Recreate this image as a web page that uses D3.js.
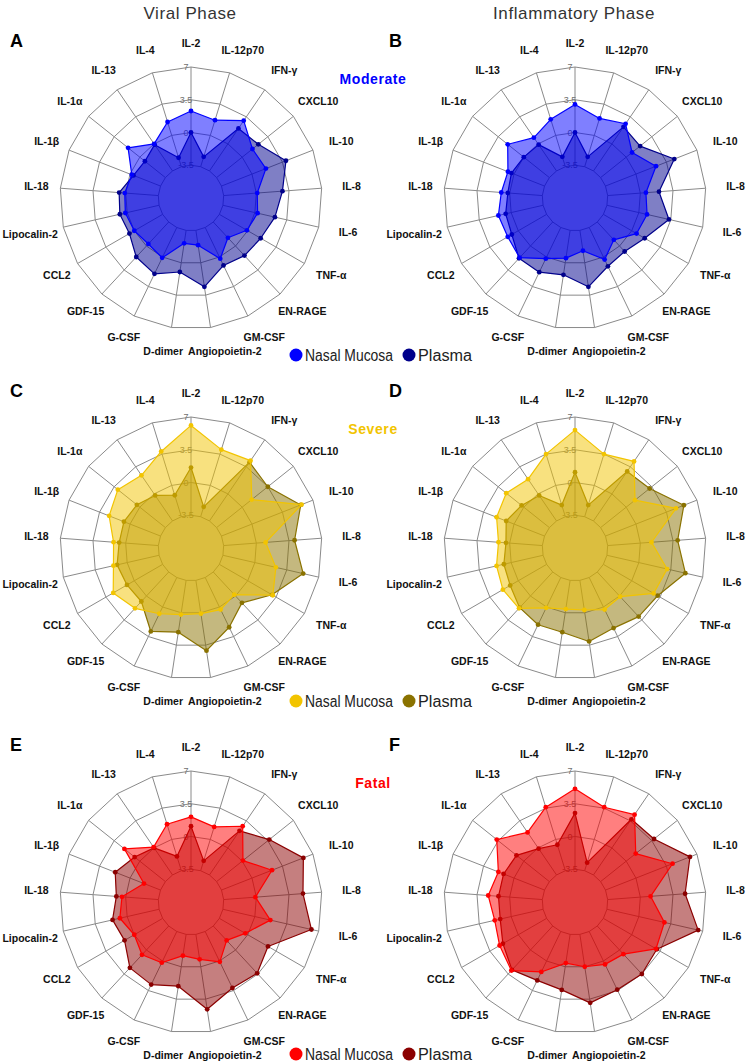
<!DOCTYPE html>
<html><head><meta charset="utf-8">
<script src="https://cdn.jsdelivr.net/npm/d3@7"></script>
<style>body{margin:0;background:#fff}svg{display:block}</style>
</head><body>
<svg id="c" width="746" height="1064"></svg>
<script>
const axes = ["IL-2","IL-12p70","IFN-γ","CXCL10","IL-10","IL-8","IL-6","TNF-α","EN-RAGE","GM-CSF","Angiopoietin-2","D-dimer","G-CSF","GDF-15","CCL2","Lipocalin-2","IL-18","IL-1β","IL-1α","IL-13","IL-4"];
const ticks = [-3.5, 0, 3.5, 7];
const phases = ["Viral Phase", "Inflammatory Phase"];
const severities = ["Moderate", "Severe", "Fatal"];
const panelLetters = ["A","B","C","D","E","F"];
const seriesNames = ["Nasal Mucosa", "Plasma"];

const modViralNasal  = [2.3, 1.7, 3.0, 1.4, 1.6, 0.1, 0.3, -0.1, -1.2, 0.2, -1.9, -2.1, 0.1, -0.3, 0.0, 0.2, 0.1, -0.2, 1.6, 0.0, 1.5];
const modViralPlasma = [0.0, -2.4, 2.0, 2.2, 3.9, 2.8, 2.2, 1.6, 1.4, 1.0, 2.6, 1.0, 2.0, 1.6, 0.6, 0.8, 0.7, -0.4, -0.7, -0.1, -2.5];
const modInflNasal   = [3.0, 1.9, 2.6, 0.8, 2.3, 0.6, 0.9, 0.6, -0.9, 0.3, -1.3, -0.5, 0.2, 1.7, 1.3, 1.4, 0.9, 0.7, 2.2, 0.8, 1.8];
const modInflPlasma  = [0.0, -2.4, 2.2, 1.9, 4.4, 2.0, 3.3, 1.6, 0.8, 1.1, 2.6, 1.3, 1.8, 1.8, 0.8, 0.6, 0.2, 0.3, 0.0, -0.1, -2.4];
const sevViralNasal  = [6.1, 4.0, 4.3, 1.3, 5.7, 1.0, 2.3, 3.1, -0.2, 0.3, 0.1, 0.2, 0.8, 1.8, 2.6, 1.5, 1.3, 2.4, 3.0, 2.4, 3.8];
const sevViralPlasma = [1.6, -2.4, 4.1, 3.5, 5.6, 4.1, 5.3, 3.0, 1.0, 2.4, 4.1, 2.1, 2.9, 0.8, 0.9, 1.1, 0.7, 0.7, 0.4, -0.2, -1.1];
const sevInflNasal   = [5.6, 3.5, 4.2, 1.2, 4.6, 1.2, 3.1, 2.7, 0.1, 0.3, -0.3, -0.4, 0.1, 1.8, 1.9, 1.6, 1.2, 2.0, 2.4, 1.9, 3.5];
const sevInflPlasma  = [1.1, -2.2, 2.9, 3.2, 5.5, 4.0, 5.1, 3.2, 3.0, 2.5, 3.1, 2.1, 2.1, 1.7, 1.0, 0.8, 0.4, 0.9, 0.3, -0.2, -2.2];
const fatViralNasal  = [2.1, 1.4, 2.8, 0.1, 2.3, -0.1, 1.7, -0.3, -1.4, 0.1, -0.8, -1.2, 0.2, 0.7, 0.0, 0.8, 0.4, -1.6, 2.1, 0.1, 1.7];
const fatViralPlasma = [1.1, -2.4, 2.2, 3.7, 5.9, 5.0, 6.2, 2.5, 3.4, 3.2, 4.6, 2.1, 2.8, 2.6, 1.2, 1.6, 1.0, 1.7, 0.7, 0.0, -1.9];
const fatInflNasal   = [5.1, 3.6, 4.3, 1.3, 4.2, 1.1, 2.8, 3.0, 0.6, 0.4, 0.0, -0.4, 1.3, 3.0, 2.3, 1.8, 2.3, 1.8, 3.7, 2.0, 3.6];
const fatInflPlasma  = [2.5, -2.6, 3.7, 3.8, 6.2, 4.8, 6.5, 3.1, 3.5, 3.4, 3.9, 2.5, 2.3, 2.9, 1.9, 1.2, 1.2, 1.2, 1.0, -0.1, -0.6];

const nasalColors  = ["#0000ff", "#f2c400", "#ff0000"];
const plasmaColors = ["#00008b", "#8a7200", "#8b0000"];

const panels = [
  {row:0, col:0, nasal:modViralNasal, plasma:modViralPlasma},
  {row:0, col:1, nasal:modInflNasal,  plasma:modInflPlasma},
  {row:1, col:0, nasal:sevViralNasal, plasma:sevViralPlasma},
  {row:1, col:1, nasal:sevInflNasal,  plasma:sevInflPlasma},
  {row:2, col:0, nasal:fatViralNasal, plasma:fatViralPlasma},
  {row:2, col:1, nasal:fatInflNasal,  plasma:fatInflPlasma}
];

const svg = d3.select("#c");
const colX = [191, 575];
const rowY = [198, 548, 902];
const legendY = [355, 701, 1054];
const R = 131;
const r = d3.scaleLinear().domain([-7, 7]).range([0, R]);
const ang = d3.scaleLinear().domain([0, axes.length]).range([0, 2 * Math.PI]);
const FONT = "'Liberation Sans', Arial, sans-serif";

svg.selectAll("text.phase").data(phases).join("text")
  .attr("class","phase")
  .attr("x", (d,i) => colX[i] - 1)
  .attr("y", 19)
  .attr("text-anchor","middle")
  .attr("font-family", FONT).attr("font-size", 17).attr("letter-spacing", 0.6)
  .attr("fill","#333").text(d => d);

const ringLine = d3.lineRadial().angle((d,i) => ang(i)).radius(d => d).curve(d3.curveLinearClosed);
const dataLine = d3.lineRadial().angle((d,i) => ang(i)).radius(d => r(d)).curve(d3.curveLinearClosed);
const clamp = (v, lo, hi) => Math.max(lo, Math.min(hi, v));

panels.forEach((p, pi) => {
  const cx = colX[p.col], cy = rowY[p.row];
  const g = svg.append("g").attr("transform", `translate(${cx},${cy})`);
  ticks.forEach(t => {
    g.append("path").attr("d", ringLine(axes.map(() => r(t))))
      .attr("fill","none").attr("stroke","#8a8a8a").attr("stroke-width",1);
  });
  g.selectAll("line.spoke").data(axes).join("line")
    .attr("x1",(d,i)=> r(-3.5)*Math.sin(ang(i))).attr("y1",(d,i)=> -r(-3.5)*Math.cos(ang(i)))
    .attr("x2",(d,i)=> r(7)*Math.sin(ang(i))).attr("y2",(d,i)=> -r(7)*Math.cos(ang(i)))
    .attr("stroke","#8a8a8a").attr("stroke-width",1);
  g.selectAll("text.tick").data(ticks).join("text")
    .attr("x", -5).attr("y", d => -r(d)).attr("dy","0.35em")
    .attr("text-anchor","middle").attr("font-family",FONT).attr("font-size",9)
    .attr("fill","#707070").text(d => String(d));
  const series = [
    {vals:p.plasma, color:plasmaColors[p.row]},
    {vals:p.nasal, color:nasalColors[p.row]}
  ];
  series.forEach(s => {
    g.append("path").attr("d", dataLine(s.vals))
      .attr("fill", s.color).attr("fill-opacity",0.5)
      .attr("stroke", s.color).attr("stroke-width",1.2).attr("stroke-linejoin","round");
    g.selectAll(null).data(s.vals).join("circle")
      .attr("cx",(d,i)=> r(d)*Math.sin(ang(i))).attr("cy",(d,i)=> -r(d)*Math.cos(ang(i)))
      .attr("r",2.4).attr("fill", s.color);
  });
  const labels = g.selectAll("text.lab").data(axes).join("text")
    .attr("class","lab")
    .attr("text-anchor","middle").attr("dy","0.35em")
    .attr("font-family",FONT).attr("font-size",10.5).attr("font-weight","bold")
    .attr("fill","#111").text(d => d);
  const boxes = [];
  const h = 10, Rl = 155, minD = R + 5;
  labels.each(function(d,i){
    const w = this.getComputedTextLength();
    const a = ang(i), s = Math.sin(a), c = Math.cos(a);
    const b = {x: Rl*s + (s > 0.01 ? 6 : 0), y: -Rl*c, w};
    for (let k = 0; k < 60; k++) {
      const nx = clamp(0, b.x - w/2, b.x + w/2), ny = clamp(0, b.y - h/2, b.y + h/2);
      if (Math.hypot(nx, ny) >= minD) break;
      b.x += s; b.y -= c;
    }
    boxes[i] = b;
  });
  const b10 = boxes[10], b11 = boxes[11];
  const overlap = (b11.x + b11.w/2 + 5) - (b10.x - b10.w/2);
  if (overlap > 0) { b11.x -= overlap/2; b10.x += overlap/2; }
  labels.attr("x",(d,i)=>boxes[i].x).attr("y",(d,i)=>boxes[i].y);

  svg.append("text").attr("x", p.col === 0 ? 10 : 389).attr("y", cy - 157).attr("dy","0.35em")
    .attr("font-family",FONT).attr("font-size",18).attr("font-weight","bold")
    .attr("fill","#000").text(panelLetters[pi]);
});

severities.forEach((sv, ri) => {
  svg.append("text").attr("x", 373).attr("y", rowY[ri] - 119).attr("dy","0.35em")
    .attr("text-anchor","middle").attr("font-family",FONT).attr("font-size",14)
    .attr("letter-spacing",0.6)
    .attr("font-weight","bold").attr("fill", nasalColors[ri]).text(sv);
  const ly = legendY[ri];
  const lg = svg.append("g");
  const cols = [nasalColors[ri], plasmaColors[ri]];
  const xs = [296, 409];
  const lens = [88, 54];
  seriesNames.forEach((nm, k) => {
    lg.append("circle").attr("cx", xs[k]).attr("cy", ly).attr("r", 6.5).attr("fill", cols[k]);
    lg.append("text").attr("x", xs[k] + 9).attr("y", ly).attr("dy","0.36em")
      .attr("font-family",FONT).attr("font-size",16).attr("fill","#222")
      .attr("textLength", lens[k]).attr("lengthAdjust","spacingAndGlyphs").text(nm);
  });
});
</script>
</body></html>
